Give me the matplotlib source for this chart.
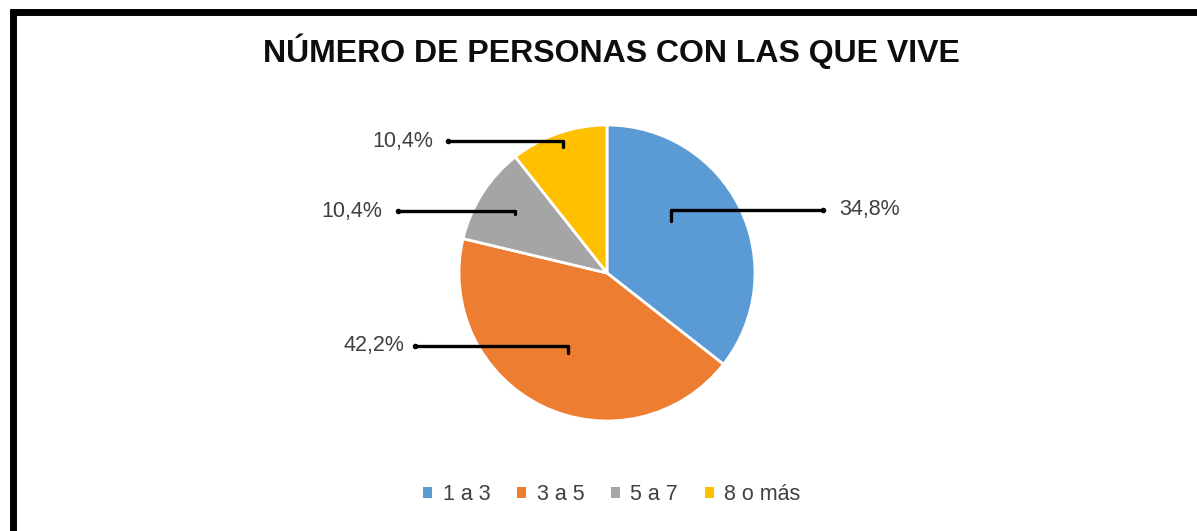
import numpy as np
import matplotlib.pyplot as plt
from matplotlib.lines import Line2D
from matplotlib.patches import Patch

categorias = ['1 a 3', '3 a 5', '5 a 7', '8 o más']
porcentajes = [34.8, 42.2, 10.4, 10.4]
etiquetas = ['34,8%', '42,2%', '10,4%', '10,4%']
colores = ['#5b9bd5', '#ed7d31', '#a5a5a5', '#ffc000']

W, H = 1197, 531
plt.rcParams['font.family'] = ['Liberation Sans', 'DejaVu Sans']

fig = plt.figure(figsize=(W / 100, H / 100), dpi=100)
ax = fig.add_axes([0, 0, 1, 1])

# pie in pixel coordinates (y measured from bottom)
cx, cy, R = 607, H - 273, 148
wedges, _ = ax.pie(porcentajes, colors=colores, startangle=90, counterclock=False,
                   center=(cx, cy), radius=R,
                   wedgeprops=dict(edgecolor='white', linewidth=2))
ax.set_xlim(0, W)
ax.set_ylim(0, H)
ax.set_aspect('equal')
ax.axis('off')

# leader lines (layout only)
ancla_r = [0.56, 0.60, 0.74, 0.90]
ancla_dang = [13, 0, 0, 0]
linea_y = [210, 346, 211, 141]
linea_x = [823, 415, 398, 448]
hueco = [16, 11, 16, 15]

for w, lab, fr, da, ly, lx, g in zip(wedges, etiquetas, ancla_r, ancla_dang, linea_y, linea_x, hueco):
    ang = np.deg2rad((w.theta1 + w.theta2) / 2 + da)
    px = cx + fr * R * np.cos(ang)
    py = cy + fr * R * np.sin(ang)
    y = H - ly
    lado = 1 if lx > px else -1
    ax.plot([px, px, lx], [py, y, y], color='black', lw=2.4,
            solid_joinstyle='round', solid_capstyle='round')
    ax.plot([lx], [y], 'o', color='black', ms=3)
    ax.text(lx + lado * g, y, lab, ha='left' if lado > 0 else 'right', va='center',
            fontsize=15.5, color='#404040')

fig.text(611 / W, 1 - 51 / H, 'NÚMERO DE PERSONAS CON LAS QUE VIVE', ha='center', va='center',
         fontsize=23, fontweight='bold', color='#0d0d0d')

handles = [Patch(facecolor=c, edgecolor='none') for c in colores]
fig.legend(handles, categorias, ncol=4, loc='center', bbox_to_anchor=(612 / W, 1 - 495 / H),
           frameon=False, handlelength=0.4, handleheight=0.4, handletextpad=0.5,
           columnspacing=1.25, fontsize=15.5, labelcolor='#404040')

# black frame (top and left)
fig.add_artist(Line2D([9.5 / W, 1], [1 - 11.5 / H] * 2, transform=fig.transFigure,
                      color='black', lw=5, solid_capstyle='butt'))
fig.add_artist(Line2D([12.5 / W] * 2, [0, 1 - 9 / H], transform=fig.transFigure,
                      color='black', lw=5, solid_capstyle='butt'))

fig.savefig('out.png', dpi=100)
